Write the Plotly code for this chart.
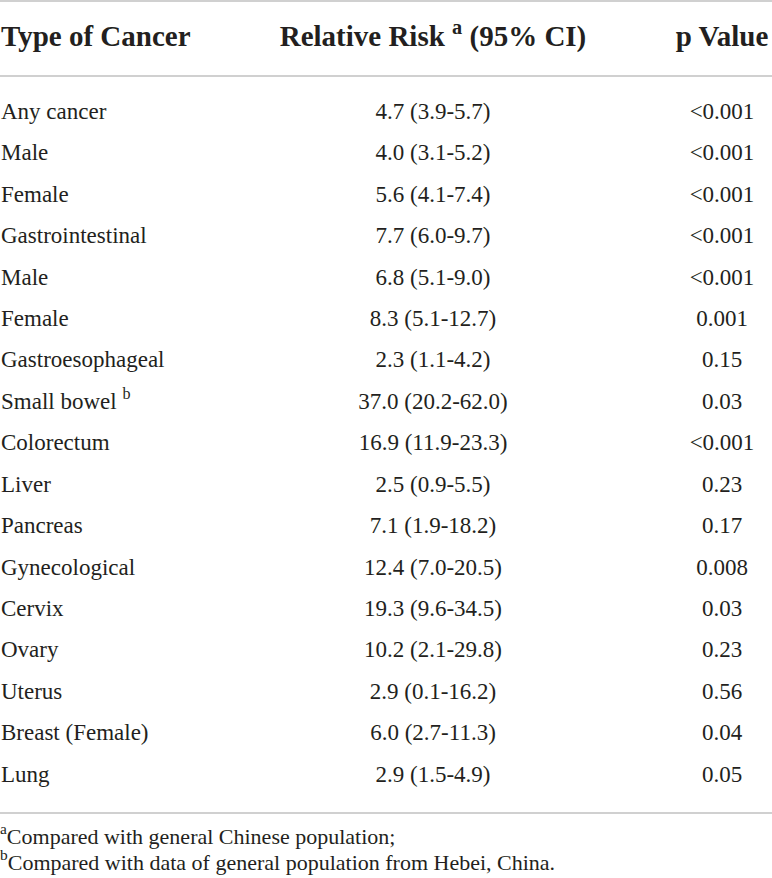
import plotly.graph_objects as go

# table contents
cancer_types = [
    'Any cancer', 'Male', 'Female', 'Gastrointestinal', 'Male', 'Female',
    'Gastroesophageal', 'Small bowel <sup>b</sup>', 'Colorectum', 'Liver',
    'Pancreas', 'Gynecological', 'Cervix', 'Ovary', 'Uterus',
    'Breast (Female)', 'Lung',
]
relative_risk = [
    '4.7 (3.9-5.7)', '4.0 (3.1-5.2)', '5.6 (4.1-7.4)', '7.7 (6.0-9.7)',
    '6.8 (5.1-9.0)', '8.3 (5.1-12.7)', '2.3 (1.1-4.2)', '37.0 (20.2-62.0)',
    '16.9 (11.9-23.3)', '2.5 (0.9-5.5)', '7.1 (1.9-18.2)', '12.4 (7.0-20.5)',
    '19.3 (9.6-34.5)', '10.2 (2.1-29.8)', '2.9 (0.1-16.2)', '6.0 (2.7-11.3)',
    '2.9 (1.5-4.9)',
]
p_values = [
    '<0.001', '<0.001', '<0.001', '<0.001', '<0.001', '0.001', '0.15', '0.03',
    '<0.001', '0.23', '0.17', '0.008', '0.03', '0.23', '0.56', '0.04', '0.05',
]
headers = ['Type of Cancer', 'Relative Risk <sup>a</sup> (95% CI)', 'p Value']
footnotes = [
    '<sup>a</sup>Compared with general Chinese population;',
    '<sup>b</sup>Compared with data of general population from Hebei, China.',
]

# layout (pixel units on both axes)
W, H = 772, 878
COL_X = [1, 433, 722]
ROW0, ROW_H = 113, 41.44
HEADER_Y = 39
RULES_Y = [1, 76, 813]
FOOT_Y = [838, 864]
TXT = '#231f20'
FONT = 'Liberation Serif'

rows_y = [ROW0 + i * ROW_H for i in range(len(cancer_types))]

fig = go.Figure()

# header
fig.add_trace(go.Scatter(
    x=COL_X, y=[HEADER_Y] * 3, mode='text',
    text=['<b>%s</b>' % h for h in headers],
    textposition=['middle right', 'middle center', 'middle center'],
    textfont=dict(family=FONT, size=29, color=TXT),
    cliponaxis=False, hoverinfo='skip'
))

# body columns
for col, vals, pos in zip(COL_X, [cancer_types, relative_risk, p_values],
                          ['middle right', 'middle center', 'middle center']):
    fig.add_trace(go.Scatter(
        x=[col] * len(vals), y=rows_y, mode='text',
        text=[v.replace('<0', '&lt;0') for v in vals],
        textposition=pos,
        textfont=dict(family=FONT, size=23, color=TXT),
        cliponaxis=False, hoverinfo='skip'
    ))

# footnotes
fig.add_trace(go.Scatter(
    x=[0] * len(footnotes), y=FOOT_Y, mode='text',
    text=footnotes, textposition='middle right',
    textfont=dict(family=FONT, size=22, color=TXT),
    cliponaxis=False, hoverinfo='skip'
))

# horizontal rules
for y in RULES_Y:
    fig.add_shape(type='line', x0=0, x1=W, y0=y, y1=y, xref='x', yref='y',
                  line=dict(color='#d0d0d0', width=2))

fig.update_layout(
    width=W, height=H,
    margin=dict(l=0, r=0, t=0, b=0),
    plot_bgcolor='white', paper_bgcolor='white',
    showlegend=False,
    xaxis=dict(range=[0, W], visible=False, fixedrange=True),
    yaxis=dict(range=[H, 0], visible=False, fixedrange=True),
)

# page body has a default 8px margin; drop it so the table sits at the corner
fig.write_html('out.html',
               config={'displayModeBar': False, 'staticPlot': True},
               post_script="document.body.style.margin='0';"
                           "document.body.style.overflow='hidden';")
